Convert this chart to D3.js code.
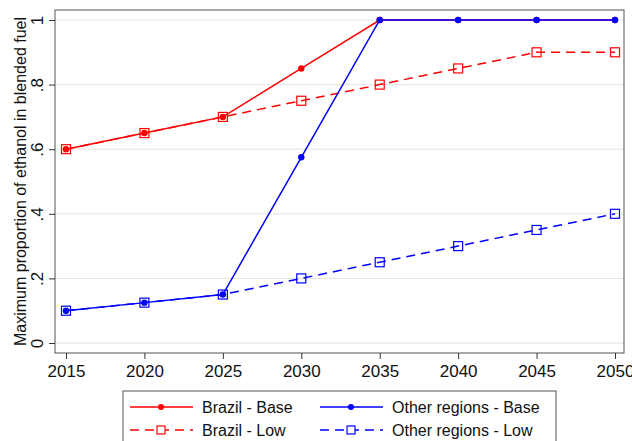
<!DOCTYPE html>
<html>
<head>
<meta charset="utf-8">
<script src="https://cdn.jsdelivr.net/npm/d3@7"></script>
<style>
  body { margin: 0; background: #fff; }
  svg { display: block; font-family: "Liberation Sans", Arial, sans-serif; }
</style>
</head>
<body>
<svg width="632" height="441"></svg>
<script>
const svg = d3.select("svg");

// Data
const years = [2015, 2020, 2025, 2030, 2035, 2040, 2045, 2050];
const brazilBase = [0.6, 0.65, 0.7, 0.85, 1, 1, 1, 1];
const brazilLow = [0.6, 0.65, 0.7, 0.75, 0.8, 0.85, 0.9, 0.9];
const otherBase = [0.1, 0.125, 0.15, 0.575, 1, 1, 1, 1];
const otherLow = [0.1, 0.125, 0.15, 0.2, 0.25, 0.3, 0.35, 0.4];
const yTicks = [0, 0.2, 0.4, 0.6, 0.8, 1];
const yTickLabels = ["0", ".2", ".4", ".6", ".8", "1"];

const series = [
    { name: "Brazil - Base", values: brazilBase, color: "#ff0000", dashed: false, marker: "circle" },
    { name: "Brazil - Low", values: brazilLow, color: "#ff0000", dashed: true, marker: "square" },
    { name: "Other regions - Base", values: otherBase, color: "#0000ff", dashed: false, marker: "circle" },
    { name: "Other regions - Low", values: otherLow, color: "#0000ff", dashed: true, marker: "square" }
];

// Plot frame
const frame = { left: 55, right: 624, top: 10, bottom: 353 };

const x = d3.scaleLinear().domain([2015, 2050]).range([66, 615]);
const y = d3.scaleLinear().domain([0, 1]).range([343, 20]);

// Gridlines
svg.append("g")
    .selectAll("line")
    .data(yTicks)
    .join("line")
    .attr("x1", frame.left)
    .attr("x2", frame.right)
    .attr("y1", d => y(d))
    .attr("y2", d => y(d))
    .attr("stroke", "#e4e4e4")
    .attr("stroke-width", 1);

// Frame
svg.append("rect")
    .attr("x", frame.left)
    .attr("y", frame.top)
    .attr("width", frame.right - frame.left)
    .attr("height", frame.bottom - frame.top)
    .attr("fill", "none")
    .attr("stroke", "#555")
    .attr("stroke-width", 1);

// X axis
const xAxis = d3.axisBottom(x)
    .tickValues(years)
    .tickFormat(d3.format("d"))
    .tickSize(6)
    .tickPadding(6);

const gx = svg.append("g")
    .attr("transform", `translate(0,${frame.bottom})`)
    .call(xAxis);
gx.select(".domain").remove();
gx.selectAll(".tick line").attr("stroke", "#333");
gx.selectAll(".tick text")
    .attr("font-size", 17)
    .attr("fill", "#111");

// Y axis
const yAxis = d3.axisLeft(y)
    .tickValues(yTicks)
    .tickFormat((d, i) => yTickLabels[i])
    .tickSize(6)
    .tickPadding(4);

const gy = svg.append("g")
    .attr("transform", `translate(${frame.left},0)`)
    .call(yAxis);
gy.select(".domain").remove();
gy.selectAll(".tick line").attr("stroke", "#333");
gy.selectAll(".tick text")
    .attr("font-size", 17)
    .attr("fill", "#111")
    .attr("x", null)
    .attr("dy", null)
    .attr("text-anchor", "middle")
    .attr("transform", "translate(-18,0) rotate(-90)")
    .attr("dominant-baseline", "central");

// Y axis title
svg.append("text")
    .attr("transform", `translate(20,${(frame.top + frame.bottom) / 2}) rotate(-90)`)
    .attr("text-anchor", "middle")
    .attr("dominant-baseline", "central")
    .attr("font-size", 16)
    .attr("fill", "#111")
    .text("Maximum proportion of ethanol in blended fuel");

// Lines and markers
const line = d3.line()
    .x((d, i) => x(years[i]))
    .y(d => y(d));

function drawMarker(g, s, cx, cy) {
    if (s.marker === "circle") {
        g.append("circle")
            .attr("cx", cx).attr("cy", cy).attr("r", 3.2)
            .attr("fill", s.color);
    } else {
        g.append("rect")
            .attr("x", cx - 4.5).attr("y", cy - 4.5)
            .attr("width", 9).attr("height", 9)
            .attr("fill", "none")
            .attr("stroke", s.color)
            .attr("stroke-width", 1.2);
    }
}

// draw Low series first, then Base so solid lines sit on top
const drawOrder = [series[1], series[3], series[0], series[2]];
drawOrder.forEach(s => {
    const g = svg.append("g");
    g.append("path")
        .datum(s.values)
        .attr("d", line)
        .attr("fill", "none")
        .attr("stroke", s.color)
        .attr("stroke-width", 1.5)
        .attr("stroke-dasharray", s.dashed ? "9,6" : null);
    s.values.forEach((v, i) => drawMarker(g, s, x(years[i]), y(v)));
});

// Legend
const legend = svg.append("g");
legend.append("rect")
    .attr("x", 123)
    .attr("y", 391)
    .attr("width", 433)
    .attr("height", 60)
    .attr("fill", "#fff")
    .attr("stroke", "#555")
    .attr("stroke-width", 1);

const legendPos = [
    { s: series[0], x: 130, y: 407 },
    { s: series[1], x: 130, y: 430 },
    { s: series[2], x: 320, y: 407 },
    { s: series[3], x: 320, y: 430 }
];

legendPos.forEach(p => {
    const g = legend.append("g");
    g.append("line")
        .attr("x1", p.x).attr("x2", p.x + 63)
        .attr("y1", p.y).attr("y2", p.y)
        .attr("stroke", p.s.color)
        .attr("stroke-width", 1.5)
        .attr("stroke-dasharray", p.s.dashed ? "9,6" : null);
    if (p.s.marker === "circle") {
        g.append("circle").attr("cx", p.x + 31).attr("cy", p.y).attr("r", 3)
            .attr("fill", p.s.color);
    } else {
        g.append("rect")
            .attr("x", p.x + 27).attr("y", p.y - 4)
            .attr("width", 8).attr("height", 8)
            .attr("fill", "#fff")
            .attr("stroke", p.s.color)
            .attr("stroke-width", 1.2);
    }
    g.append("text")
        .attr("x", p.x + 72)
        .attr("y", p.y)
        .attr("dominant-baseline", "central")
        .attr("font-size", 16)
        .attr("fill", "#111")
        .text(p.s.name);
});
</script>
</body>
</html>
